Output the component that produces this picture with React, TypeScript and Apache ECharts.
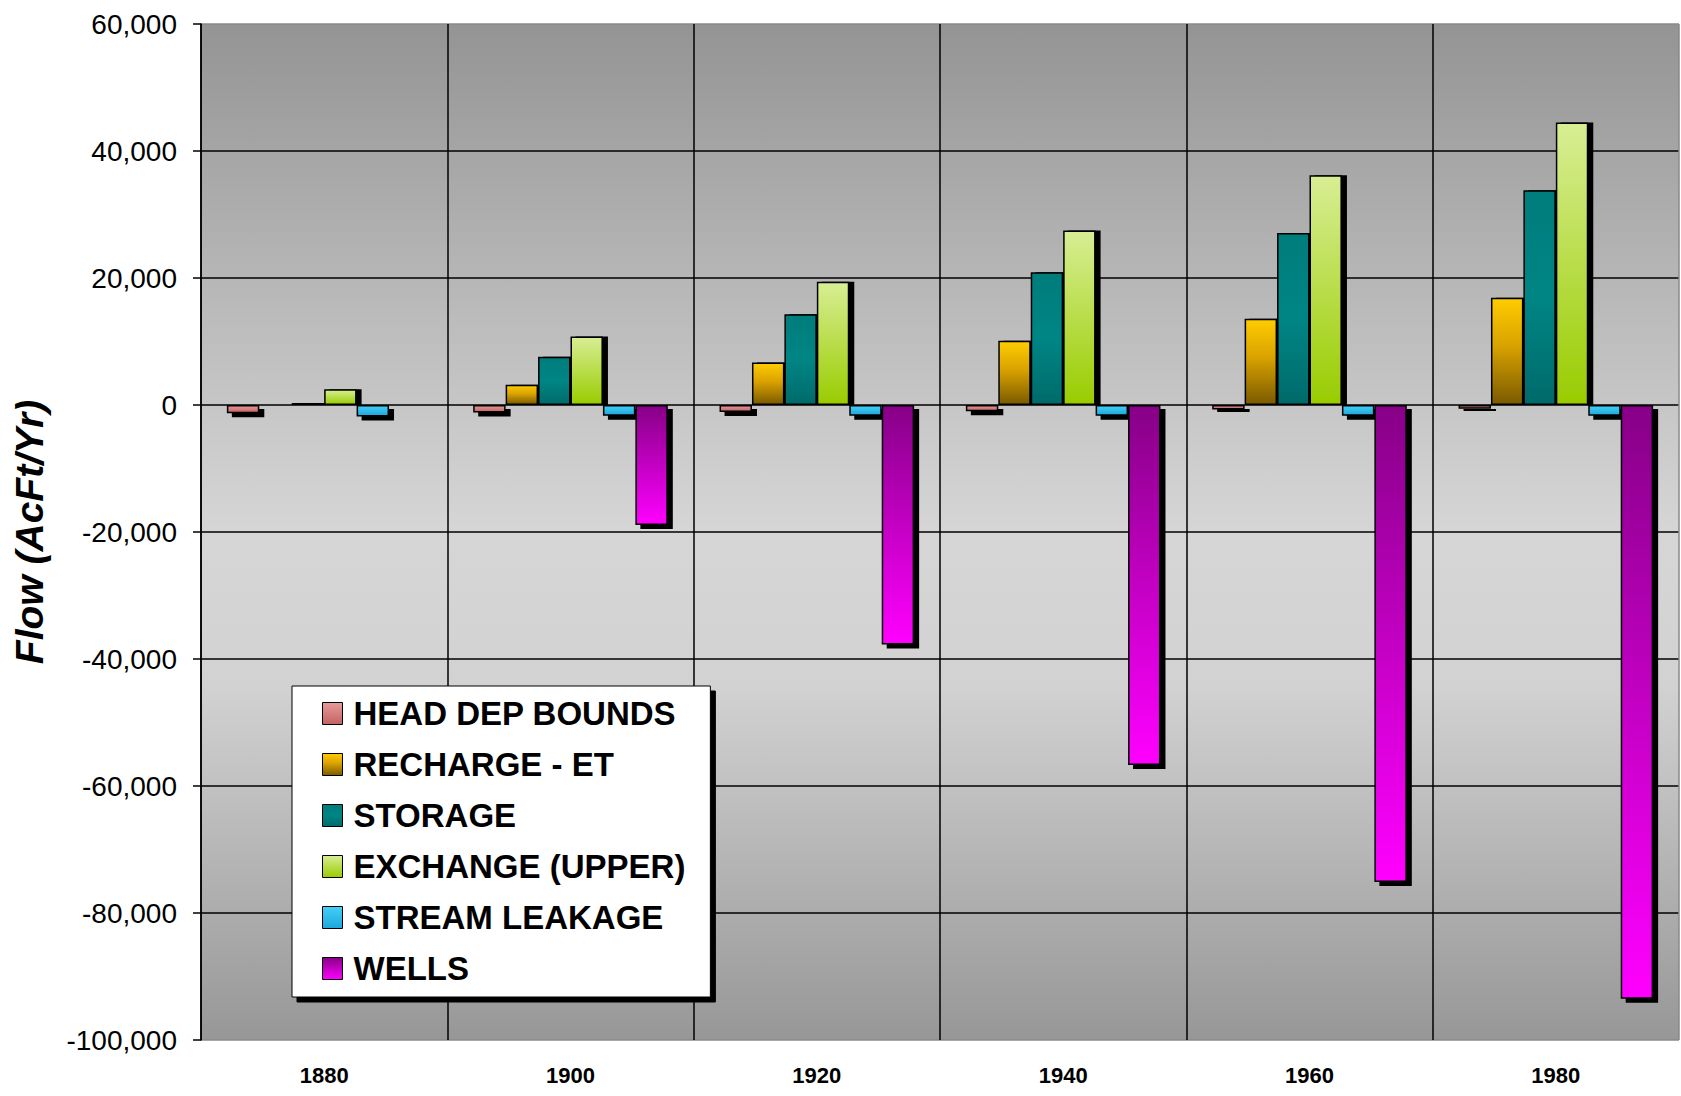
import React, { useEffect, useRef } from "react";
import * as echarts from "echarts";

const categories = ["1880", "1900", "1920", "1940", "1960", "1980"];
const headDepBounds = [-1300, -1200, -1100, -1000, -700, -600];
const rechargeEt = [0, 3200, 6700, 10100, 13600, 16900];
const storage = [300, 7600, 14300, 20900, 27100, 33800];
const exchangeUpper = [2500, 10800, 19400, 27500, 36200, 44500];
const streamLeakage = [-1800, -1700, -1700, -1700, -1700, -1700];
const wells = [0, -18900, -37700, -56700, -75100, -93500];

const seriesNames = [
  "HEAD DEP BOUNDS",
  "RECHARGE - ET",
  "STORAGE",
  "EXCHANGE (UPPER)",
  "STREAM LEAKAGE",
  "WELLS",
];

const FONT = 'Arial, "Liberation Sans", sans-serif';

function grad(stops: [number, string][]) {
  return new echarts.graphic.LinearGradient(
    0,
    0,
    0,
    1,
    stops.map(([offset, color]) => ({ offset, color }))
  );
}

const seriesColors = [
  grad([
    [0, "#e89a9a"],
    [1, "#c46262"],
  ]),
  grad([
    [0, "#ffcc00"],
    [0.45, "#d9a200"],
    [1, "#7a5a00"],
  ]),
  grad([
    [0, "#007c7c"],
    [0.5, "#008585"],
    [1, "#006a6a"],
  ]),
  grad([
    [0, "#d8ee94"],
    [1, "#99cc00"],
  ]),
  grad([
    [0, "#44d0f8"],
    [1, "#1ea6dc"],
  ]),
  grad([
    [0, "#870087"],
    [1, "#ff00ff"],
  ]),
];

const seriesValues = [
  headDepBounds,
  rechargeEt,
  storage,
  exchangeUpper,
  streamLeakage,
  wells,
];

export default function App() {
  const ref = useRef<HTMLDivElement>(null);

  useEffect(() => {
    if (!ref.current) return;
    const chart = echarts.init(ref.current, null, { renderer: "svg" });

    const series = seriesValues.map((vals, i) => ({
      name: seriesNames[i],
      type: "bar",
      barGap: "0%",
      barCategoryGap: "21%",
      data: vals.map((v) => ({
        value: v,
        itemStyle: { shadowOffsetY: v < 0 ? 4 : 0 },
      })),
      itemStyle: {
        color: seriesColors[i],
        borderColor: "#000",
        borderWidth: 1.5,
        shadowColor: "#000",
        shadowBlur: 0,
        shadowOffsetX: 5,
        shadowOffsetY: 4,
      },
    }));

    chart.setOption({
      animation: false,
      backgroundColor: "#ffffff",
      grid: {
        left: 201,
        right: 2,
        top: 24,
        bottom: 56,
        show: true,
        borderWidth: 0,
        backgroundColor: grad([
          [0, "#949494"],
          [0.3, "#bdbdbd"],
          [0.5, "#d6d6d6"],
          [0.65, "#d2d2d2"],
          [1, "#979797"],
        ]),
      },
      legend: {
        orient: "vertical",
        left: 292,
        top: 686,
        padding: [11, 25, 12, 30],
        backgroundColor: "#ffffff",
        borderColor: "#000",
        borderWidth: 1,
        shadowColor: "#000",
        shadowBlur: 0,
        shadowOffsetX: 5,
        shadowOffsetY: 5,
        icon: "rect",
        itemWidth: 20,
        itemHeight: 22,
        itemGap: 18,
        itemStyle: {
          borderColor: "#000",
          borderWidth: 1,
          shadowColor: "rgba(0,0,0,0)",
          shadowBlur: 0,
          shadowOffsetX: 0,
          shadowOffsetY: 0,
        },
        textStyle: {
          fontFamily: FONT,
          fontSize: 33,
          fontWeight: "bold",
          color: "#000",
          lineHeight: 33,
          padding: [0, 0, 0, 6],
        },
        data: seriesNames,
      },
      xAxis: {
        type: "category",
        data: categories,
        boundaryGap: true,
        axisLine: { show: false },
        axisTick: { show: false },
        axisLabel: {
          fontFamily: FONT,
          fontSize: 22,
          fontWeight: "bold",
          color: "#000",
          margin: 24,
        },
        splitLine: {
          show: true,
          lineStyle: {
            color: ["#000", "#000", "#000", "#000", "#000", "#000", "#8a8a8a"],
            width: 1.5,
          },
        },
      },
      yAxis: {
        type: "value",
        min: -100000,
        max: 60000,
        interval: 20000,
        name: "Flow (AcFt/Yr)",
        nameLocation: "middle",
        nameRotate: 90,
        nameGap: 152,
        nameTextStyle: {
          fontFamily: FONT,
          fontSize: 39,
          fontWeight: "bold",
          fontStyle: "italic",
          color: "#000",
        },
        axisLine: { show: true, lineStyle: { color: "#000", width: 1.5 } },
        axisTick: {
          show: true,
          length: 8,
          lineStyle: { color: "#000", width: 1.5 },
        },
        axisLabel: {
          fontFamily: FONT,
          fontSize: 28,
          color: "#000",
          margin: 24,
          formatter: (v: number) => v.toLocaleString("en-US"),
        },
        splitLine: {
          show: true,
          lineStyle: {
            color: [
              "#8a8a8a",
              "#000",
              "#000",
              "#000",
              "#000",
              "#000",
              "#000",
              "#000",
              "#8a8a8a",
            ],
            width: 1.5,
          },
        },
      },
      series,
    });

    return () => chart.dispose();
  }, []);

  return (
    <div
      ref={ref}
      style={{
        position: "fixed",
        left: 0,
        top: 0,
        width: 1681,
        height: 1096,
      }}
    />
  );
}
